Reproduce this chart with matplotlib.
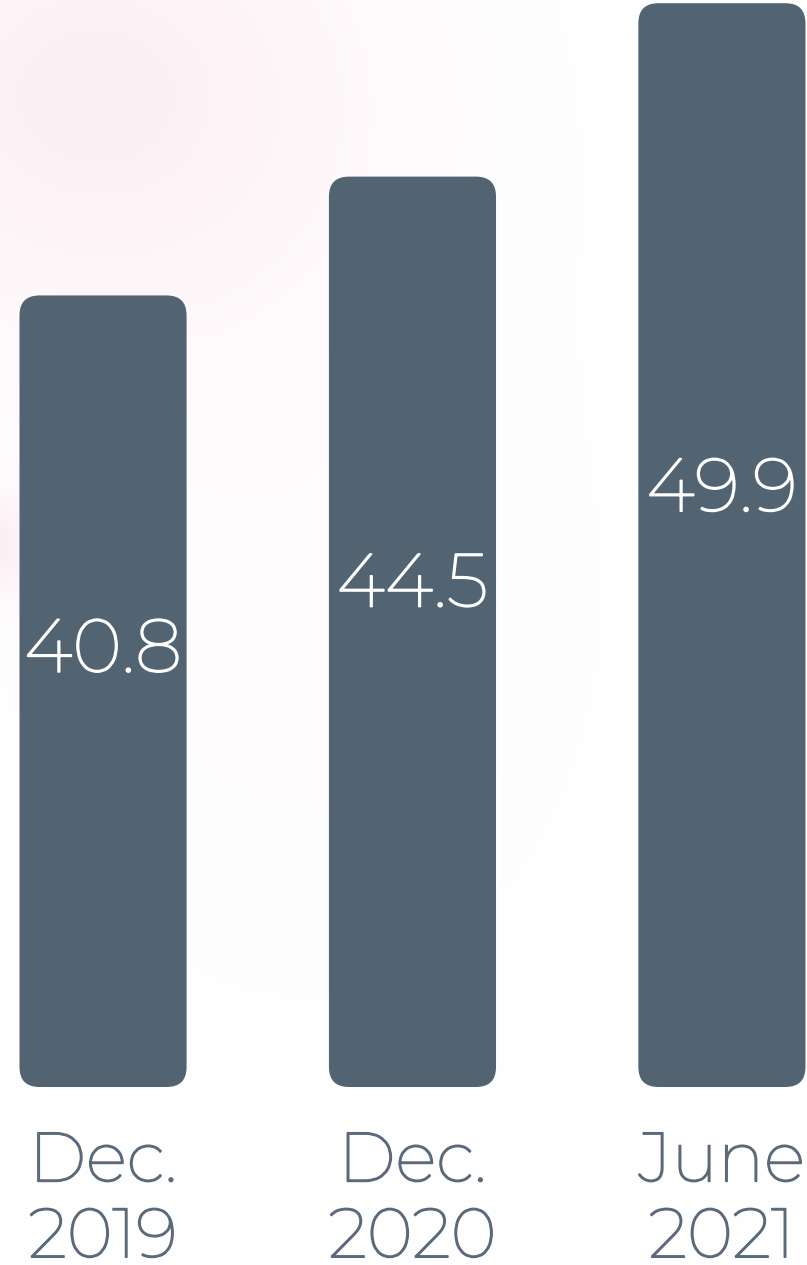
import numpy as np
import matplotlib
matplotlib.use('Agg')
import matplotlib.pyplot as plt
from matplotlib.patches import FancyBboxPatch
import matplotlib.patheffects as pe

# data
periods = ['Dec.\n2019', 'Dec.\n2020', 'June\n2021']
values = [40.8, 44.5, 49.9]
value_labels = ['40.8', '44.5', '49.9']

bar_color = '#526371'
text_color = '#5a6a7a'
font = 'Montserrat'

W, H = 807, 1265
fig = plt.figure(figsize=(W / 100, H / 100), dpi=100)
fig.patch.set_facecolor('white')

# faint pink wash in the background (top-left)
bg = fig.add_axes([0, 0, 1, 1], zorder=0)
yy, xx = np.mgrid[0:H:4, 0:W:4]
blob1 = np.exp(-(((xx - 90) / 280.0) ** 2 + ((yy - 90) / 240.0) ** 2))
blob2 = np.exp(-(((xx + 40) / 100.0) ** 2 + ((yy - 545) / 55.0) ** 2))
blob3 = np.exp(-(((xx - 300) / 300.0) ** 2 + ((yy - 600) / 400.0) ** 2))
a = np.clip(0.45 * blob1 + 0.5 * blob2 + 0.08 * blob3, 0, 1)
pink = np.array([250, 222, 232]) / 255.0
img = np.ones(yy.shape + (3,)) * (1 - a[..., None]) + pink * a[..., None]
bg.imshow(img, extent=[0, W, H, 0], aspect='auto', interpolation='bilinear')
bg.set_xlim(0, W)
bg.set_ylim(H, 0)
bg.axis('off')

# main axes: bottom of bars sits at 1087 px from top
base_px = 1087
ax = fig.add_axes([0, (H - base_px) / H, 1, base_px / H], zorder=1)
ax.patch.set_alpha(0)
x = np.arange(len(values))
ax.set_xlim(-0.333, 2.275)
ybase = 16.15
ax.set_ylim(ybase, 50.0)
ax.axis('off')

bars = ax.bar(x, [v - ybase for v in values], bottom=ybase, width=0.54, color=bar_color)

# swap plain rectangles for rounded ones
fig.canvas.draw()
px_x = ax.transData.transform((1, 0))[0] - ax.transData.transform((0, 0))[0]
px_y = ax.transData.transform((0, 1))[1] - ax.transData.transform((0, 0))[1]
r_px = 20
r_x = r_px / px_x
for b in bars:
    b.set_visible(False)
    p = FancyBboxPatch((b.get_x(), b.get_y()), b.get_width(), b.get_height(),
                       boxstyle=f'round,pad=0,rounding_size={r_x}',
                       mutation_aspect=px_x / px_y,
                       facecolor=bar_color, edgecolor='none')
    ax.add_patch(p)

# the installed Montserrat is the thin cut, a stroke brings it up to "light"
for xi, v, lab in zip(x, values, value_labels):
    ax.text(xi, ybase + 0.55 * (v - ybase), lab, ha='center', va='center',
            color='white', fontsize=54, family=font,
            path_effects=[pe.withStroke(linewidth=1.25, foreground='white')])

for xi, lab in zip(x, periods):
    ax.text(xi, -0.104, lab, transform=ax.get_xaxis_transform(), ha='center',
            va='center', color=text_color, fontsize=50, family=font,
            linespacing=1.22, clip_on=False,
            path_effects=[pe.withStroke(linewidth=1.15, foreground=text_color)])

fig.savefig('out.png', dpi=100)
